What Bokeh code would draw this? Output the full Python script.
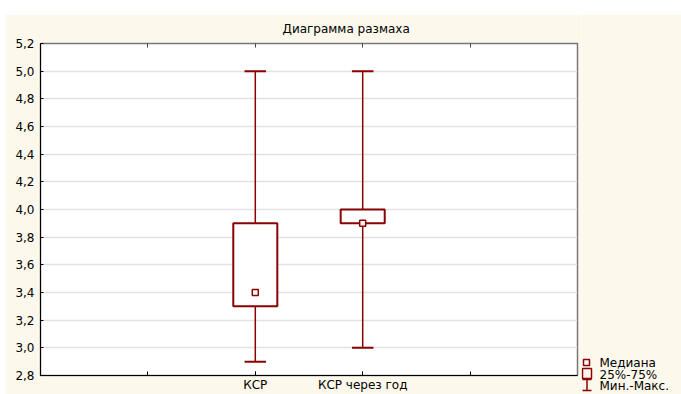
from bokeh.plotting import figure
from bokeh.layouts import row, column
from bokeh.models import FixedTicker, LinearAxis, Range1d, ColumnDataSource
from bokeh.core.properties import value
from bokeh.embed import file_html
from bokeh.resources import INLINE

# Box-plot summary for each group
categories = ["КСР", "КСР через год"]
minimum = [2.9, 3.0]
maximum = [5.0, 5.0]
q1 = [3.3, 3.9]
q3 = [3.9, 4.0]
median = [3.4, 3.9]

y_ticks = [2.8, 3.0, 3.2, 3.4, 3.6, 3.8, 4.0, 4.2, 4.4, 4.6, 4.8, 5.0, 5.2]
y_tick_labels = ["2,8", "3,0", "3,2", "3,4", "3,6", "3,8", "4,0", "4,2",
                 "4,4", "4,6", "4,8", "5,0", "5,2"]
x_grid_ticks = [1, 2, 3, 4]

title_text = "Диаграмма размаха"
legend_labels = ["Медиана", "25%-75%", "Мин.-Макс."]

RED = "#8B0000"
BG = "#FDF8EC"
FONT = "DejaVu Sans"
FS = "12px"

pos = [i + 2 for i in range(len(categories))]
bw = 0.41   # box width
cap = 0.2   # whisker cap width
src = ColumnDataSource(dict(
    x=pos, lo=minimum, hi=maximum, q1=q1, q3=q3, med=median,
    bl=[x - bw / 2 for x in pos], br=[x + bw / 2 for x in pos],
    cl=[x - cap / 2 for x in pos], cr=[x + cap / 2 for x in pos],
))

p = figure(width=576, height=380, x_range=Range1d(0, 5), y_range=Range1d(2.8, 5.2),
           output_backend="svg", toolbar_location=None,
           min_border_left=35, min_border_right=4, min_border_top=29, min_border_bottom=17)
p.border_fill_color = BG
p.background_fill_color = "white"
p.outline_line_color = "#777777"
p.outline_line_width = 1.5

p.title.text = title_text
p.title.align = "left"
p.title.offset = 242
p.title.vertical_align = "top"
p.title.text_font = FONT
p.title.text_font_size = FS
p.title.text_font_style = "normal"
p.title.text_color = "black"
p.title.standoff = 12

# grid
p.xgrid.visible = False
p.ygrid.ticker = FixedTicker(ticks=y_ticks)
p.ygrid.grid_line_color = "#e2e2e2"
p.ygrid.grid_line_width = 1.5

# y axis
p.yaxis.ticker = FixedTicker(ticks=y_ticks)
p.yaxis.major_label_overrides = dict(zip(y_ticks, y_tick_labels))
p.yaxis.major_tick_out = 0
p.yaxis.major_tick_in = 3
p.yaxis.minor_tick_line_color = None
p.yaxis.major_label_standoff = 6
p.yaxis.axis_line_color = "black"
p.yaxis.major_label_text_font = FONT
p.yaxis.major_label_text_font_size = FS
p.yaxis.major_label_text_color = "black"

# x axis: labels under the groups, plain ticks between them
p.xaxis.ticker = FixedTicker(ticks=pos, minor_ticks=x_grid_ticks)
p.xaxis.major_label_overrides = dict(zip(pos, categories))
p.xaxis.major_tick_out = 0
p.xaxis.major_tick_in = 4
p.xaxis.minor_tick_out = 0
p.xaxis.minor_tick_in = 4
p.xaxis.minor_tick_line_color = "black"
p.xaxis.major_label_standoff = 2
p.xaxis.axis_line_color = "black"
p.xaxis.major_label_text_font = FONT
p.xaxis.major_label_text_font_size = FS
p.xaxis.major_label_text_color = "black"

# top axis: inward ticks only
top = LinearAxis(ticker=FixedTicker(ticks=[], minor_ticks=x_grid_ticks),
                 major_tick_out=0, major_tick_in=0, major_label_standoff=0,
                 minor_tick_out=0, minor_tick_in=4, minor_tick_line_color="#444444",
                 axis_line_color="#777777")
p.add_layout(top, "above")

# whiskers (min-max) with caps
p.segment(x0="x", y0="lo", x1="x", y1="hi", source=src, line_color=RED, line_width=1.5)
p.segment(x0="cl", y0="lo", x1="cr", y1="lo", source=src, line_color=RED, line_width=2)
p.segment(x0="cl", y0="hi", x1="cr", y1="hi", source=src, line_color=RED, line_width=2)

# 25%-75% boxes
p.quad(left="bl", right="br", bottom="q1", top="q3", source=src,
       fill_color="white", line_color=RED, line_width=2)

# medians
p.scatter(x="x", y="med", source=src, marker="square", size=6, fill_color="white",
          line_color=RED, line_width=1.5)

# legend panel (pixel coordinates, origin at bottom-left)
leg = figure(title=None, width=100, height=380,
             x_range=Range1d(0, 100), y_range=Range1d(0, 380),
             output_backend="svg", toolbar_location=None,
             min_border=0, x_axis_location=None, y_axis_location=None)
leg.border_fill_color = BG
leg.background_fill_color = BG
leg.outline_line_color = None
leg.grid.visible = False

leg.scatter(x=[5], y=[32], marker="square", size=6, fill_color="white",
            line_color=RED, line_width=1.5)
leg.quad(left=[1], right=[10], bottom=[16], top=[26], fill_color=None,
         line_color=RED, line_width=1.5)
leg.segment(x0=[5.5], y0=[4], x1=[5.5], y1=[15], line_color=RED, line_width=1.5)
leg.segment(x0=[1, 1], y0=[4, 15], x1=[10, 10], y1=[4, 15], line_color=RED, line_width=1.5)
leg.text(x=[18, 18, 18], y=[32, 20, 9], text=legend_labels, text_font=value(FONT),
         text_font_size=FS, text_baseline="middle", text_align="left", text_color="black")

layout = row(p, column(leg), spacing=0)
layout.margin = (14, 0, 0, 5)

open("out.html", "w").write(file_html(layout, INLINE))
